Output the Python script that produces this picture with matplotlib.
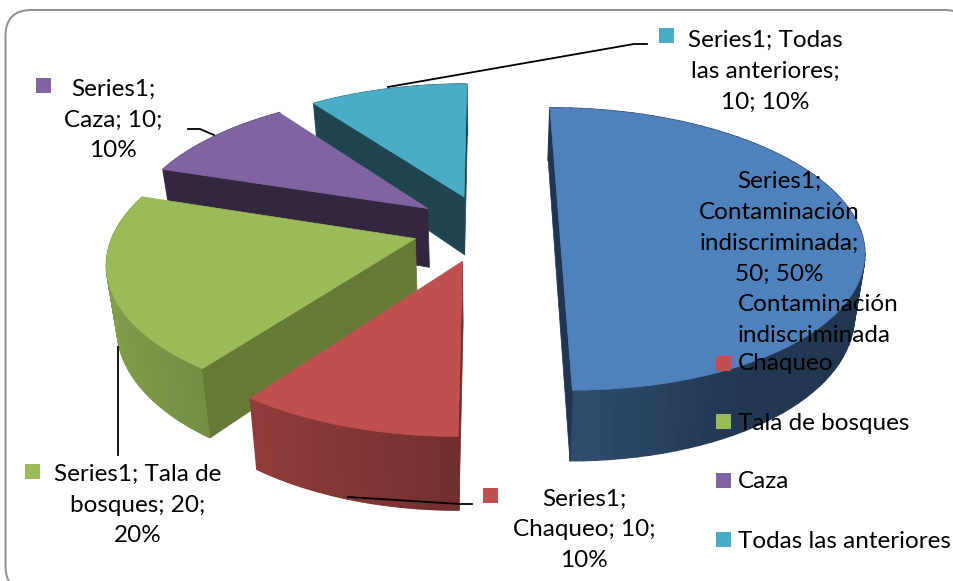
"""Exploded 3D pie chart with data labels and a legend on top of it."""

import matplotlib
matplotlib.use("Agg")
import matplotlib.pyplot as plt
import numpy as np
from matplotlib.colors import to_rgb
from matplotlib.patches import FancyBboxPatch, Rectangle

categories = ["Contaminación indiscriminada", "Chaqueo", "Tala de bosques",
              "Caza", "Todas las anteriores"]
values = [50, 10, 20, 10, 10]
top_colors = ["#4F81BD", "#C0504D", "#9BBB59", "#8064A2", "#4BACC6"]
wall_colors = ["#1F3552", "#702D2B", "#667A35", "#33273F", "#1F4650"]

legend_labels = ["Contaminación\nindiscriminada", "Chaqueo", "Tala de bosques",
                 "Caza", "Todas las anteriores"]
data_labels = ["Series1;\nContaminación\nindiscriminada;\n50; 50%",
               "Series1;\nChaqueo; 10;\n10%",
               "Series1; Tala de\nbosques; 20;\n20%",
               "Series1;\nCaza; 10;\n10%",
               "Series1; Todas\nlas anteriores;\n10; 10%"]

# layout, all in pixels of the 954x581 picture
W, H = 954, 581
CX, CY = 486, 228
RX, RY = 300, 138
PERSP = 0.149
EXPLODE = 0.245
DEPTH = 60
SHRINK = 0.972
LINE_GAP = 1.58
FONT_SIZE = 17.5

label_centers = [(779, 228), (584, 530), (138, 505), (113, 120), (765, 71)]
label_markers = [None, (483, 488), (25, 464), (36, 78), (659, 28)]
leaders = [None,
           [(348, 497), (460, 504), (472, 504)],
           [(118, 347), (118, 455)],
           [(188, 129), (200, 129), (214, 135)],
           [(388, 87), (634, 44), (647, 44)]]
legend_text_y = [320, 364, 423, 482, 542]
legend_marker_y = [296, 356, 414, 473, 532]

plt.rcParams['font.family'] = ['Lato', 'DejaVu Sans']


def project(x3, y3, z=0.0):
    """Turn pie plane coordinates into picture pixels, z is 0 on top, 1 below."""
    scale = 1 / (1 + PERSP * y3)
    px = CX + RX * x3 * scale
    py = CY - RY * y3 * scale
    if z:
        px = CX + (px - CX) * SHRINK
        py = py + DEPTH * scale
    return px, py


def rim_shade(theta):
    """Brightness of the outer wall, it darkens from left to right."""
    return np.interp(np.sin(theta), [-1, -0.6, 0, 0.5, 1],
                     [0.85, 0.76, 0.59, 0.43, 0.42])


def draw_slice(ax, start, end, top_color, wall_color):
    """Draw the rim, the walls facing us and the top face of one exploded slice."""
    mid = (start + end) / 2
    ox = EXPLODE * np.sin(mid)
    oy = EXPLODE * np.cos(mid)
    thetas = np.linspace(start, end, 80)
    arc_x = ox + np.sin(thetas)
    arc_y = oy + np.cos(thetas)
    top_px = project(arc_x, arc_y)
    low_px = project(arc_x, arc_y, 1)
    apex_top = project(ox, oy)
    apex_low = project(ox, oy, 1)

    base = np.array(to_rgb(top_color))
    for i in range(len(thetas) - 1):
        shade = rim_shade((thetas[i] + thetas[i + 1]) / 2)
        ax.fill([top_px[0][i], top_px[0][i + 1], low_px[0][i + 1], low_px[0][i]],
                [top_px[1][i], top_px[1][i + 1], low_px[1][i + 1], low_px[1][i]],
                color=tuple(base * shade), lw=1.2)
    walls = []
    if np.sin(start) < 1e-6:
        walls.append(0)
    if np.sin(end) > -1e-6:
        walls.append(-1)
    for i in walls:
        ax.fill([apex_top[0], top_px[0][i], low_px[0][i], apex_low[0]],
                [apex_top[1], top_px[1][i], low_px[1][i], apex_low[1]],
                color=wall_color, lw=0.5)
    ax.fill(np.r_[apex_top[0], top_px[0]], np.r_[apex_top[1], top_px[1]],
            color=top_color, lw=0.5)


def add_marker(ax, x, y, color):
    """Small colour square of a label or legend entry."""
    ax.add_patch(Rectangle((x, y), 15, 15, facecolor=color, edgecolor='none', zorder=5))


fig = plt.figure(figsize=(W / 100, H / 100), dpi=100)
ax = fig.add_axes([0, 0, 1, 1])
ax.set_xlim(0, W)
ax.set_ylim(H, 0)
ax.axis('off')

ax.add_patch(FancyBboxPatch((5.5, 10), 965, 582,
                            boxstyle="round,pad=0,rounding_size=26",
                            facecolor='white', edgecolor='#8E8E8E', lw=1.4))

edges = np.cumsum([0] + values) / sum(values) * 2 * np.pi
for i in reversed(range(len(values))):
    draw_slice(ax, edges[i], edges[i + 1], top_colors[i], wall_colors[i])

for i, text in enumerate(data_labels):
    x, y = label_centers[i]
    ax.text(x, y, text, ha='center', va='center', fontsize=FONT_SIZE,
            linespacing=LINE_GAP, color='black', zorder=6)
    if label_markers[i] is not None:
        add_marker(ax, *label_markers[i], top_colors[i])
    if leaders[i] is not None:
        xs, ys = zip(*leaders[i])
        ax.plot(xs, ys, color='black', lw=1.3, zorder=6)

for i, text in enumerate(legend_labels):
    ax.text(738, legend_text_y[i], text, ha='left', va='center', fontsize=FONT_SIZE,
            linespacing=LINE_GAP, color='black', zorder=6)
    add_marker(ax, 716, legend_marker_y[i], top_colors[i])

fig.savefig("out.png", dpi=100)
